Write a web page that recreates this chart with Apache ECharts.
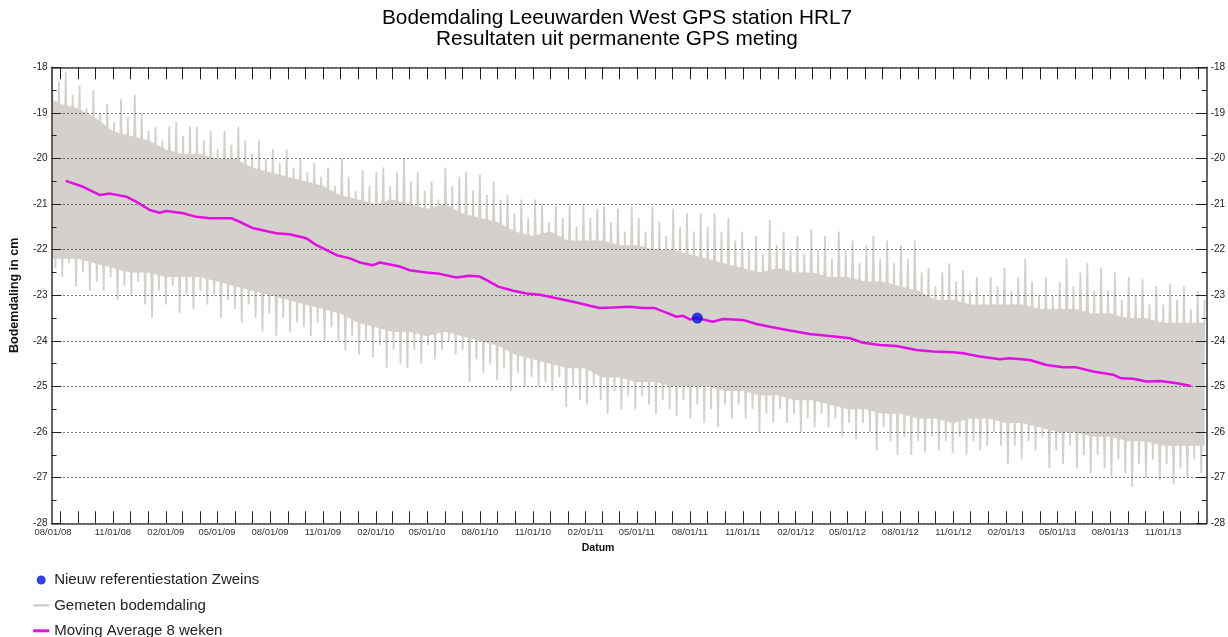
<!DOCTYPE html>
<html><head><meta charset="utf-8">
<script src="https://cdn.jsdelivr.net/npm/echarts@6/dist/echarts.min.js"></script>
<style>html,body{margin:0;padding:0;background:#fff}#c{width:1228px;height:637px}</style>
</head><body><div id="c"></div>
<script>
// ---- texts ----
const titel = 'Bodemdaling Leeuwarden West GPS station HRL7';
const subtitel = 'Resultaten uit permanente GPS meting';
const yAsNaam = 'Bodemdaling in cm';
const xAsNaam = 'Datum';
const serieNamen = ['Nieuw referentiestation Zweins', 'Gemeten bodemdaling', 'Moving Average 8 weken'];

// ---- axes ----
const yMin = -28, yMax = -18, yStap = 1;
const xBegin = '2008-07-17', xEind = '2014-01-15';
const xTickLabels = ['08/01/08','11/01/08','02/01/09','05/01/09','08/01/09','11/01/09','02/01/10','05/01/10','08/01/10','11/01/10','02/01/11','05/01/11','08/01/11','11/01/11','02/01/12','05/01/12','08/01/12','11/01/12','02/01/13','05/01/13','08/01/13','11/01/13'];
const eersteTickMaand = '2008-08-01', laatsteTickMaand = '2014-01-01';

// ---- Gemeten bodemdaling (alternating local highs / lows, every 6 days) ----
const gemetenStart = '2008-07-18';
const gemetenStapDagen = 12;
const gemetenHoog = [
-18.0,-18.3,-18.1,-18.6,-18.4,-18.9,-18.5,
-19.0,-18.8,-19.2,-18.7,-19.1,-18.6,-19.0,-19.4,-19.3,-19.6,-19.3,-19.2,-19.5,-19.3,
-19.3,-19.6,-19.4,-19.8,-19.4,-19.7,-19.3,-19.6,-19.9,-19.6,-20.0,-19.8,-20.1,-19.8,-20.2,
-20.0,-20.3,-20.1,-20.4,-20.2,-20.6,-20.0,-20.4,-20.7,-20.25,-20.6,-20.3,-20.2,-20.6,-20.3,
-20.0,-20.5,-20.3,-20.7,-20.5,-20.9,-20.2,-20.6,-20.4,-20.3,-20.7,-20.35,-20.8,-20.5,-20.9,
-20.8,-21.2,-20.9,-21.3,-20.9,-21.0,-21.4,-21.05,-21.3,-21.0,-21.5,-21.0,-21.3,-21.1,
-21.05,-21.4,-21.1,-21.6,-21.05,-21.3,-21.6,-21.05,-21.4,-21.7,-21.1,-21.5,-21.2,-21.6,-21.2,
-21.5,-21.2,-21.6,-21.3,-21.8,-21.6,-22.0,-21.7,-22.1,-21.35,-21.9,-21.6,-22.0,-21.7,
-22.1,-21.55,-22.0,-21.7,-22.2,-21.6,-22.0,-21.8,-22.3,-21.9,-21.7,-22.2,-21.8,-22.3,-21.9,
-22.2,-21.8,-22.5,-22.4,-22.8,-22.5,-22.3,-22.7,-22.45,-22.9,-22.6,-23.0,-22.6,-22.8,
-22.4,-22.9,-22.6,-22.2,-22.7,-23.0,-22.6,-23.0,-22.7,-22.2,-22.8,-22.5,-22.3,-22.9,-22.4,
-22.9,-22.5,-23.1,-22.6,-23.0,-22.65,-23.2,-22.8,-23.2,-22.75,-23.1,-22.8,-23.3,-22.9,-23.1];
const gemetenLaag = [
-22.4,-22.6,-22.3,-22.8,-22.5,-22.9,-22.7,
-22.9,-22.6,-23.1,-22.8,-23.0,-22.7,-23.2,-23.5,-22.9,-23.2,-22.8,-23.4,-23.0,-23.3,
-22.9,-23.2,-23.0,-23.5,-23.1,-23.3,-23.6,-23.2,-23.5,-23.8,-23.4,-23.9,-23.5,-23.8,-23.6,
-23.7,-23.9,-23.6,-24.0,-23.7,-24.0,-24.2,-23.9,-24.3,-24.0,-24.35,-24.1,-24.6,-24.2,-24.5,
-24.6,-24.2,-24.5,-24.1,-24.4,-24.2,-24.0,-24.3,-24.2,-24.9,-24.4,-24.7,-24.5,-24.85,-24.6,
-25.1,-24.7,-25.0,-24.8,-25.0,-24.9,-25.1,-24.8,-25.45,-25.0,-25.3,-25.4,-25.0,-25.3,
-25.6,-25.1,-25.5,-25.2,-25.5,-25.2,-25.4,-25.6,-25.3,-25.5,-25.65,-25.3,-25.7,-25.4,-25.8,
-25.5,-25.9,-25.4,-25.7,-25.4,-25.7,-25.5,-26.0,-25.6,-25.8,-25.5,-25.8,-25.6,-26.0,
-25.7,-25.9,-25.6,-25.9,-25.7,-26.1,-25.8,-26.15,-25.8,-26.0,-26.4,-25.9,-26.2,-26.5,-26.1,
-26.5,-26.2,-26.45,-26.1,-26.4,-26.2,-26.45,-26.1,-26.5,-26.2,-26.4,-26.3,-26.0,-26.3,
-26.7,-26.3,-26.6,-26.2,-26.4,-26.1,-26.8,-26.4,-26.7,-26.3,-26.8,-26.5,-26.9,-26.5,-26.8,
-26.97,-26.6,-26.9,-27.2,-26.7,-27.0,-26.6,-27.05,-26.7,-27.15,-26.8,-27.0,-26.6,-26.9];

// dense core of the measurements (start, each month start, end)
const kernBegin = '2008-07-18', kernEind = '2014-01-12';
const kernHoog = [-18.7,
-18.8,-18.9,-19.1,-19.4,-19.5,-19.6,-19.8,-19.9,-19.9,-20.0,-20.0,-20.2,
-20.3,-20.4,-20.5,-20.6,-20.8,-20.9,-21.0,-20.9,-21.0,-21.1,-21.0,-21.2,
-21.3,-21.4,-21.6,-21.7,-21.6,-21.8,-21.8,-21.8,-21.9,-21.9,-22.0,-22.0,
-22.1,-22.2,-22.3,-22.4,-22.5,-22.4,-22.5,-22.5,-22.6,-22.6,-22.7,-22.7,
-22.8,-22.9,-23.1,-23.1,-23.2,-23.2,-23.2,-23.2,-23.3,-23.3,-23.3,-23.4,
-23.4,-23.5,-23.5,-23.6,-23.6,-23.6,
-23.6];
const kernLaag = [-22.2,
-22.2,-22.2,-22.3,-22.4,-22.5,-22.5,-22.6,-22.6,-22.6,-22.7,-22.8,-22.9,
-23.0,-23.1,-23.2,-23.3,-23.4,-23.6,-23.7,-23.8,-23.8,-23.9,-23.8,-23.9,
-24.0,-24.1,-24.3,-24.4,-24.5,-24.6,-24.6,-24.8,-24.8,-24.9,-24.9,-25.0,
-25.0,-25.0,-25.1,-25.1,-25.2,-25.2,-25.3,-25.3,-25.4,-25.5,-25.5,-25.6,
-25.6,-25.7,-25.7,-25.8,-25.7,-25.7,-25.8,-25.8,-25.9,-26.0,-26.0,-26.1,
-26.1,-26.2,-26.2,-26.3,-26.3,-26.3,
-26.3];

// ---- Moving Average 8 weken ----
const maDatums = ['2008-08-11','2008-09-10','2008-10-09','2008-10-27','2008-11-25','2008-12-12','2009-01-04','2009-01-21','2009-02-02','2009-03-03','2009-03-26','2009-04-18','2009-05-11','2009-05-26','2009-06-15','2009-07-03','2009-08-12','2009-09-04','2009-10-03','2009-10-21','2009-11-25','2009-12-18','2010-01-04','2010-01-27','2010-02-08','2010-03-15','2010-04-01','2010-04-30','2010-05-23','2010-06-21','2010-07-14','2010-08-01','2010-08-12','2010-09-02','2010-09-28','2010-10-21','2010-11-13','2010-12-06','2011-01-10','2011-02-08','2011-02-25','2011-03-20','2011-04-18','2011-05-11','2011-06-01','2011-06-21','2011-07-09','2011-07-20','2011-08-01','2011-08-14','2011-09-10','2011-09-28','2011-11-01','2011-11-25','2011-12-18','2012-01-22','2012-02-25','2012-03-31','2012-05-05','2012-05-28','2012-06-26','2012-07-25','2012-08-29','2012-09-27','2012-11-01','2012-11-18','2012-12-17','2013-01-21','2013-02-07','2013-03-14','2013-04-12','2013-05-11','2013-06-03','2013-07-02','2013-08-06','2013-08-20','2013-09-10','2013-10-03','2013-10-27','2013-11-25','2013-12-19'];
const maWaarden = [-20.49,-20.62,-20.80,-20.77,-20.84,-20.95,-21.13,-21.19,-21.15,-21.20,-21.28,-21.31,-21.31,-21.31,-21.42,-21.53,-21.64,-21.66,-21.75,-21.90,-22.12,-22.19,-22.28,-22.34,-22.28,-22.37,-22.45,-22.50,-22.53,-22.61,-22.57,-22.59,-22.66,-22.81,-22.90,-22.96,-22.99,-23.05,-23.14,-23.23,-23.28,-23.27,-23.25,-23.28,-23.28,-23.38,-23.47,-23.45,-23.53,-23.50,-23.58,-23.52,-23.54,-23.63,-23.69,-23.77,-23.85,-23.89,-23.94,-24.04,-24.09,-24.11,-24.20,-24.23,-24.25,-24.27,-24.34,-24.40,-24.38,-24.42,-24.53,-24.58,-24.58,-24.67,-24.74,-24.82,-24.83,-24.89,-24.88,-24.93,-24.99];

// ---- Nieuw referentiestation ----
const refDatum = ['2011-08-14'];
const refWaarde = [-23.50];

// ---- helpers ----
const DAG = 86400000;
function iso(s){ const p = s.split('-').map(Number); return Date.UTC(p[0], p[1]-1, p[2]); }
function usd(s){ const p = s.split('/').map(Number); return Date.UTC(2000+p[2], p[0]-1, p[1]); }
function maandStarts(van, tot){
  const r = []; const a = new Date(iso(van)); const eind = iso(tot);
  let y = a.getUTCFullYear(), m = a.getUTCMonth();
  while (Date.UTC(y,m,1) <= eind) { r.push(Date.UTC(y,m,1)); m++; if (m>11){m=0;y++;} }
  return r;
}

const labelWaarden = xTickLabels.map(usd);
const labelMap = {}; xTickLabels.forEach((l,i)=>{ labelMap[labelWaarden[i]] = l; });
const tickWaarden = maandStarts(eersteTickMaand, laatsteTickMaand);

const grijsData = [];
const g0 = iso(gemetenStart);
for (let c = 0; c < gemetenHoog.length; c++) {
  grijsData.push([g0 + c*gemetenStapDagen*DAG, gemetenHoog[c]]);
  if (c < gemetenLaag.length) grijsData.push([g0 + (c*gemetenStapDagen + gemetenStapDagen/2)*DAG, gemetenLaag[c]]);
}
const kernTijden = [iso(kernBegin)].concat(maandStarts(eersteTickMaand, laatsteTickMaand), [iso(kernEind)]);
const kernData = kernTijden.map((t,i)=>[t, kernHoog[i], kernLaag[i]]);
const maData = maDatums.map((d,i)=>[iso(d), maWaarden[i]]);
const refData = refDatum.map((d,i)=>[iso(d), refWaarde[i]]);

const FONT = "'Liberation Sans', Arial, Helvetica, sans-serif";
const GRIJS = '#d4d1cc';
const MAGENTA = '#e10fe1';
const BLAUW = '#0010e0';

const yBase = {
  type:'value', min:yMin, max:yMax, interval:yStap, z:2,
  axisLine:{show:true, lineStyle:{color:'#333', width:1.5}},
  axisTick:{show:true, inside:true, length:10, lineStyle:{color:'#222', width:1}},
  minorTick:{show:true, splitNumber:2, length:5, lineStyle:{color:'#222', width:1}},
  axisLabel:{fontSize:10, color:'#222', margin:4, fontFamily:FONT},
  minorSplitLine:{show:false}
};
const xBase = {
  type:'value', min:iso(xBegin)+5*3600000, max:iso(xEind)+14*3600000, z:2,
  axisLine:{show:true, onZero:false, lineStyle:{color:'#444', width:1.5}},
  axisTick:{show:true, inside:true, length:12, customValues:tickWaarden, lineStyle:{color:'#222', width:1}},
  splitLine:{show:false}
};

const chart = echarts.init(document.getElementById('c'), null, {renderer:'canvas'});
chart.setOption({
  animation:false,
  backgroundColor:'#fff',
  textStyle:{fontFamily:FONT},
  title:{text: titel + '\n' + subtitel, left:617, top:8, padding:0, textAlign:'center',
    textStyle:{fontSize:20.8, fontWeight:'normal', color:'#000', lineHeight:21, fontFamily:FONT}},
  grid:{left:51.5, right:21.3, top:67.3, bottom:113.7, outerBoundsMode:'none'},
  legend:{orient:'vertical', left:31.7, top:571.5, height:100, padding:0, itemGap:8.4, itemWidth:16, itemHeight:9,
    textStyle:{fontSize:15, color:'#222', lineHeight:17, fontFamily:FONT},
    data:[
      {name:serieNamen[0], icon:'circle', itemStyle:{color:BLAUW}},
      {name:serieNamen[1], itemStyle:{opacity:0}, lineStyle:{width:2, color:'#c8c5c0'}},
      {name:serieNamen[2], itemStyle:{opacity:0}, lineStyle:{width:3, color:MAGENTA}}
    ]},
  xAxis:[
    Object.assign({}, xBase, {position:'bottom',
      axisLabel:{customValues:labelWaarden,
        formatter:(v)=>{ const l = labelMap[v]||''; return v === labelWaarden[0] ? '{eerste|' + l + '}' : l; },
        rich:{eerste:{fontSize:9.5, color:'#333', fontFamily:FONT, padding:[0,14,0,0]}},
        fontSize:9.5, color:'#333', margin:4, fontFamily:FONT},
      name:xAsNaam, nameLocation:'middle', nameGap:14,
      nameTextStyle:{fontWeight:'bold', fontSize:10.5, color:'#111', padding:[0,62,0,0], fontFamily:FONT}}),
    Object.assign({}, xBase, {position:'top', axisLabel:{show:false}})
  ],
  yAxis:[
    Object.assign({}, yBase, {position:'left',
      splitLine:{show:true, lineStyle:{color:'#000', type:[1,3], width:1}},
      name:yAsNaam, nameLocation:'middle', nameGap:30,
      nameTextStyle:{fontWeight:'bold', fontSize:12.5, color:'#111', fontFamily:FONT}}),
    Object.assign({}, yBase, {position:'right', splitLine:{show:false}})
  ],
  series:[
    {type:'custom', name:'kern', silent:true, z:1, data:[kernData[0]],
      encode:{x:0, y:1},
      renderItem:(params, api)=>{
        const pts = [];
        for (let i = 0; i < kernData.length; i++) pts.push(api.coord([kernData[i][0], kernData[i][1]]));
        for (let i = kernData.length-1; i >= 0; i--) pts.push(api.coord([kernData[i][0], kernData[i][2]]));
        return {type:'polygon', shape:{points:pts}, style:{fill:GRIJS}};
      }},
    {type:'line', name:serieNamen[1], data:grijsData, symbol:'none', showSymbol:false,
      lineStyle:{color:GRIJS, width:1.8}, itemStyle:{color:GRIJS}, silent:true, z:1},
    {type:'line', name:serieNamen[2], data:maData, symbol:'none', showSymbol:false,
      lineStyle:{color:MAGENTA, width:2.5}, itemStyle:{color:MAGENTA}, z:3},
    {type:'scatter', name:serieNamen[0], data:refData, symbol:'circle', symbolSize:11,
      itemStyle:{color:BLAUW}, z:4}
  ]
});
</script>
</body></html>
